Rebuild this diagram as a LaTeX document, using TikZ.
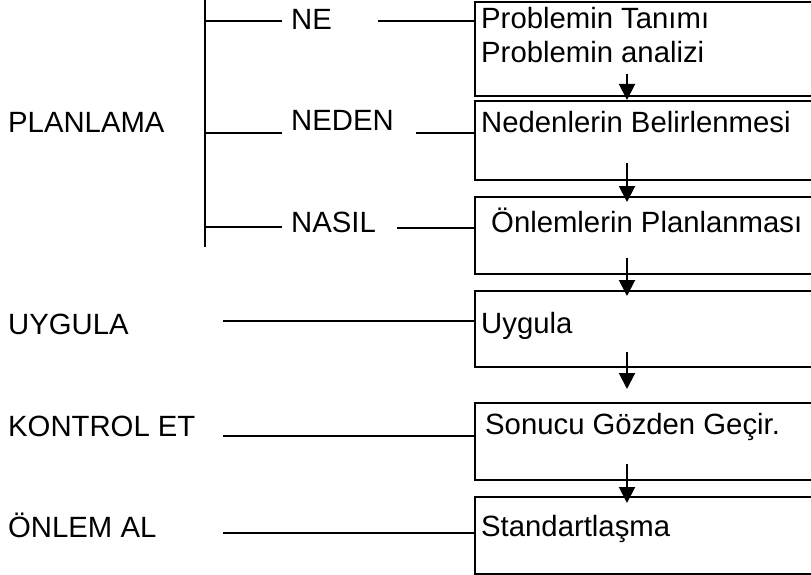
\documentclass[tikz,border=0pt]{standalone}
\usepackage{fontspec}
\setmainfont{Liberation Sans}
\usetikzlibrary{arrows.meta}
\begin{document}
\begin{tikzpicture}[x=1pt,y=-1pt,
  every node/.style={font=\fontsize{29.3}{34}\selectfont},
  lbl/.style={anchor=base west,inner sep=0pt},
  stepbox/.style={draw,line width=2pt,rectangle,anchor=north west,minimum width=420pt,inner sep=0pt},
  wire/.style={line width=2pt},
  flow/.style={line width=2pt,-{Triangle[length=16pt,width=16pt]}}]
\useasboundingbox (0,0) rectangle (811,575);
\clip (0,0) rectangle (811,575);

% step boxes (right side runs off the page)
\node[stepbox,minimum height=94pt] (b1) at (474,1) {};
\node[stepbox,minimum height=79pt] (b2) at (474,100) {};
\node[stepbox,minimum height=77pt] (b3) at (474,196) {};
\node[stepbox,minimum height=76pt] (b4) at (474,290) {};
\node[stepbox,minimum height=77pt] (b5) at (474,402) {};
\node[stepbox,minimum height=77pt] (b6) at (474,496) {};

% box texts
\node[lbl] (t1a) at (481,29) {Problemin Tanımı};
\node[lbl] (t1b) at (481,63) {Problemin analizi};
\node[lbl] (t2) at (481,132) {Nedenlerin Belirlenmesi};
\node[lbl] (t3) at (491,232) {Önlemlerin Planlanması};
\node[lbl] (t4) at (481,333) {Uygula};
\node[lbl] (t5) at (485,434) {Sonucu Gözden Geçir.};
\node[lbl] (t6) at (481,536) {Standartlaşma};

% phase labels
\node[lbl] (pl) at (8,132) {PLANLAMA};
\node[lbl] (uy) at (8,334) {UYGULA};
\node[lbl] (ko) at (8,436) {KONTROL ET};
\node[lbl] (on) at (8,537) {ÖNLEM AL};

% question labels
\node[lbl] (ne) at (291,30) {NE};
\node[lbl] (nd) at (291,131) {NEDEN};
\node[lbl] (ns) at (291,232) {NASIL};

% planning bracket
\coordinate (trT) at (205,0);
\coordinate (trB) at (205,247);
\draw[wire] (trT) -- (trB);
\coordinate (br1) at (282,21);
\coordinate (br2) at (282,133);
\coordinate (br3) at (282,227);
\draw[wire] (br1 -| trT) -- (br1);
\draw[wire] (br2 -| trT) -- (br2);
\draw[wire] (br3 -| trT) -- (br3);

% links into the boxes
\coordinate (r1) at (378,21);
\coordinate (r2) at (416,133);
\coordinate (r3) at (397,228);
\coordinate (r4) at (223,321);
\coordinate (r5) at (223,436);
\coordinate (r6) at (223,533);
\draw[wire] (r1) -- (r1 -| b1.west);
\draw[wire] (r2) -- (r2 -| b2.west);
\draw[wire] (r3) -- (r3 -| b3.west);
\draw[wire] (r4) -- (r4 -| b4.west);
\draw[wire] (r5) -- (r5 -| b5.west);
\draw[wire] (r6) -- (r6 -| b6.west);

% flow arrows between boxes
\coordinate (a1) at (627,74);  \coordinate (e1) at (627,100);
\coordinate (a2) at (627,163); \coordinate (e2) at (627,202);
\coordinate (a3) at (627,258); \coordinate (e3) at (627,296);
\coordinate (a4) at (627,352); \coordinate (e4) at (627,389);
\coordinate (a5) at (627,464); \coordinate (e5) at (627,503);
\draw[flow] (a1) -- (e1);
\draw[flow] (a2) -- (e2);
\draw[flow] (a3) -- (e3);
\draw[flow] (a4) -- (e4);
\draw[flow] (a5) -- (e5);
\end{tikzpicture}
\end{document}
